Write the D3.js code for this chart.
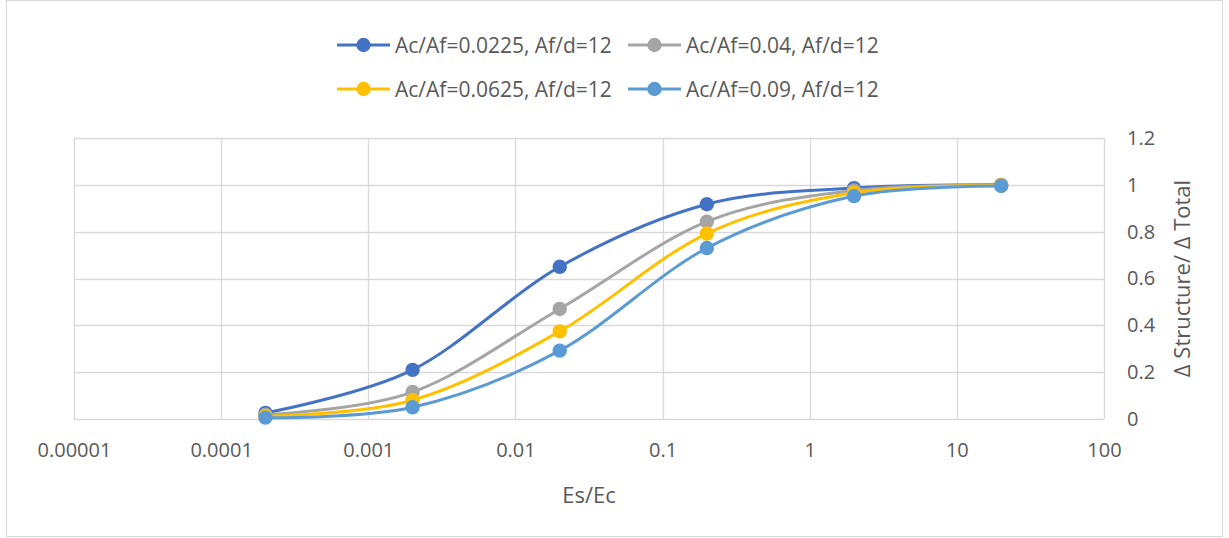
<!DOCTYPE html>
<html>
<head>
<meta charset="utf-8">
<script src="https://cdn.jsdelivr.net/npm/d3@7/dist/d3.min.js"></script>
<style>
  html, body { margin: 0; padding: 0; background: #fff; }
  svg { display: block; font-family: "Open Sans", "Noto Sans", sans-serif; }
</style>
</head>
<body>
<svg id="chart" width="1229" height="538"></svg>
<script>
// Es/Ec sample points
const esEc = [0.0002, 0.002, 0.02, 0.2, 2, 20];

// Δ Structure / Δ Total for each Ac/Af ratio (Af/d = 12)
const series0225 = [0.026, 0.21, 0.65, 0.917, 0.986, 1.0];
const series04   = [0.018, 0.115, 0.47, 0.843, 0.976, 0.998];
const series0625 = [0.012, 0.08, 0.374, 0.792, 0.966, 0.997];
const series09   = [0.006, 0.05, 0.292, 0.73, 0.952, 0.995];

const seriesNames = [
  "Ac/Af=0.0225, Af/d=12",
  "Ac/Af=0.04, Af/d=12",
  "Ac/Af=0.0625, Af/d=12",
  "Ac/Af=0.09, Af/d=12"
];
const seriesColors = ["#4472C4", "#A5A5A5", "#FFC000", "#5B9BD5"];

const xTicks = [0.00001, 0.0001, 0.001, 0.01, 0.1, 1, 10, 100];
const xTickLabels = ["0.00001", "0.0001", "0.001", "0.01", "0.1", "1", "10", "100"];
const yTicks = [0, 0.2, 0.4, 0.6, 0.8, 1, 1.2];
const yTickLabels = ["0", "0.2", "0.4", "0.6", "0.8", "1", "1.2"];

const svg = d3.select("#chart");
const plot = { left: 74, right: 1104, top: 138, bottom: 419 };
const textColor = "#595959";

const x = d3.scaleLog().domain([0.00001, 100]).range([plot.left, plot.right]);
const y = d3.scaleLinear().domain([0, 1.2]).range([plot.bottom, plot.top]);

// chart area frame
svg.append("rect")
  .attr("x", 6.5).attr("y", 0.5).attr("width", 1216).attr("height", 536)
  .attr("fill", "#fff").attr("stroke", "#D9D9D9").attr("stroke-width", 1);

// gridlines
const grid = svg.append("g").attr("stroke", "#D9D9D9").attr("stroke-width", 1.3);
grid.selectAll(".vg").data(xTicks).join("line")
  .attr("x1", d => Math.round(x(d)) + 0.5).attr("x2", d => Math.round(x(d)) + 0.5)
  .attr("y1", plot.top).attr("y2", plot.bottom);
grid.selectAll(".hg").data(yTicks).join("line")
  .attr("x1", plot.left).attr("x2", plot.right)
  .attr("y1", d => Math.round(y(d)) + 0.5).attr("y2", d => Math.round(y(d)) + 0.5);

// x axis labels
const xAxis = d3.axisBottom(x).tickValues(xTicks)
  .tickFormat((d, i) => xTickLabels[i]).tickSize(0).tickPadding(24);
svg.append("g").attr("transform", `translate(0,${plot.bottom})`).call(xAxis)
  .call(g => g.select(".domain").remove())
  .call(g => g.selectAll("text").attr("fill", textColor)
    .attr("font-size", 20).attr("font-family", "'Open Sans', sans-serif"));

// y axis labels (right side)
const yAxis = d3.axisRight(y).tickValues(yTicks)
  .tickFormat((d, i) => yTickLabels[i]).tickSize(0).tickPadding(23);
svg.append("g").attr("transform", `translate(${plot.right},0)`).call(yAxis)
  .call(g => g.select(".domain").remove())
  .call(g => g.selectAll("text").attr("fill", textColor)
    .attr("font-size", 20).attr("font-family", "'Open Sans', sans-serif"));

// axis titles
svg.append("text")
  .attr("x", 589).attr("y", 503)
  .attr("text-anchor", "middle").attr("fill", textColor).attr("font-size", 22)
  .text("Es/Ec");
svg.append("text")
  .attr("transform", `translate(1190,${(plot.top + plot.bottom) / 2}) rotate(-90)`)
  .attr("text-anchor", "middle").attr("fill", textColor).attr("font-size", 22)
  .text("Δ Structure/ Δ Total");

// series lines and markers
const allSeries = [series0225, series04, series0625, series09];
const line = d3.line()
  .x(d => x(d.x)).y(d => y(d.y))
  .curve(d3.curveCardinal.tension(0));

allSeries.forEach((vals, i) => {
  const pts = esEc.map((v, j) => ({ x: v, y: vals[j] }));
  const g = svg.append("g");
  g.append("path").datum(pts)
    .attr("d", line).attr("fill", "none")
    .attr("stroke", seriesColors[i]).attr("stroke-width", 3)
    .attr("stroke-linecap", "round");
  g.selectAll("circle").data(pts).join("circle")
    .attr("cx", d => x(d.x)).attr("cy", d => y(d.y)).attr("r", 7.2)
    .attr("fill", seriesColors[i]);
});

// legend
const legendItems = [
  { i: 0, lx: 337, ly: 45 }, { i: 1, lx: 628, ly: 45 },
  { i: 2, lx: 337, ly: 89 }, { i: 3, lx: 628, ly: 89 }
];
const lg = svg.append("g");
legendItems.forEach(it => {
  const c = seriesColors[it.i];
  lg.append("line").attr("x1", it.lx).attr("x2", it.lx + 53)
    .attr("y1", it.ly).attr("y2", it.ly)
    .attr("stroke", c).attr("stroke-width", 3);
  lg.append("circle").attr("cx", it.lx + 26.5).attr("cy", it.ly).attr("r", 7.2).attr("fill", c);
  lg.append("text").attr("x", it.lx + 58).attr("y", it.ly + 7.5)
    .attr("fill", textColor).attr("font-size", 21)
    .text(seriesNames[it.i]);
});
</script>
</body>
</html>
